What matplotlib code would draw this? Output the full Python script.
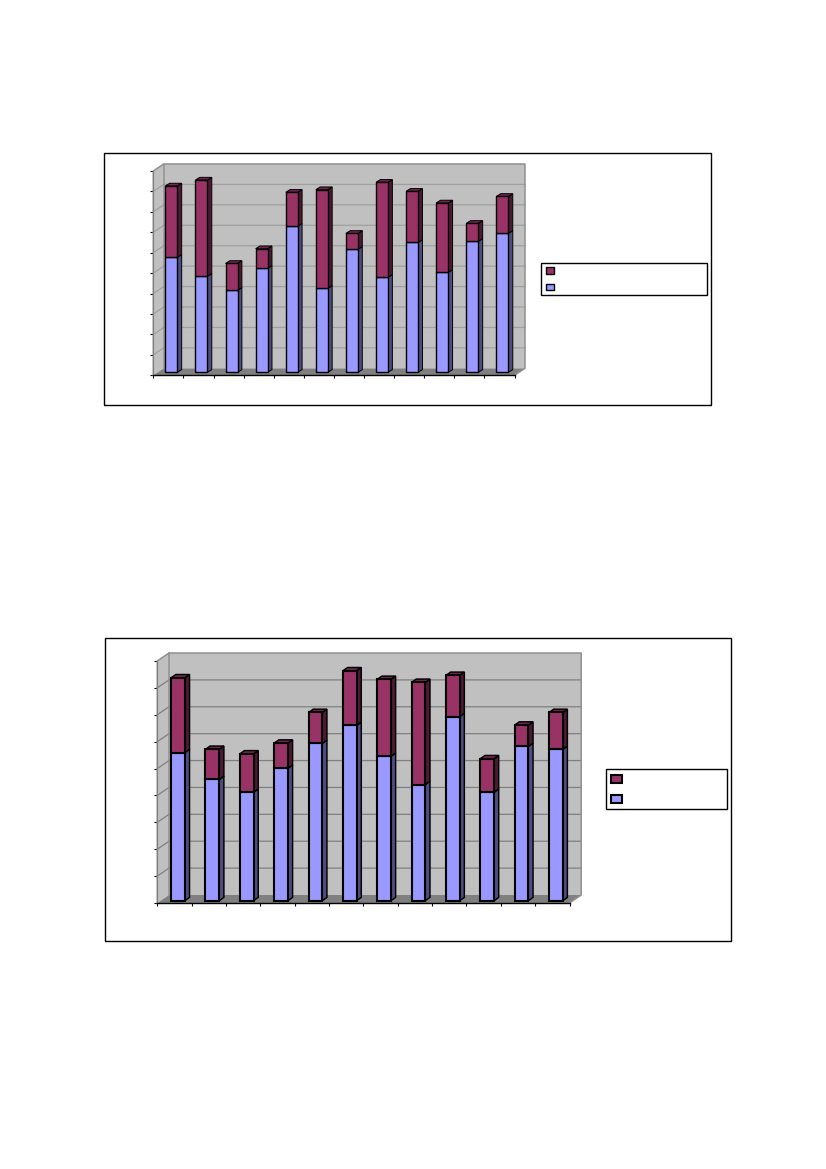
import matplotlib
matplotlib.use('Agg')
import matplotlib.pyplot as plt
from matplotlib.patches import Polygon, Rectangle
from matplotlib.transforms import Affine2D, IdentityTransform

W = 826
H = 1169

# top chart values
blue_1 = [56.3, 47.0, 40.1, 50.9, 71.5, 41.1, 60.2, 46.5, 63.6, 48.9, 64.1, 68.0]
red_1 = [34.9, 47.1, 13.2, 9.6, 16.6, 48.3, 7.8, 46.5, 25.0, 34.0, 8.8, 18.1]
ticks_1 = [0, 10, 20, 30, 40, 50, 60, 70, 80, 90, 100]

# bottom chart values
blue_2 = [55.1, 45.1, 40.3, 49.2, 58.5, 65.2, 53.7, 43.2, 68.5, 40.3, 57.4, 56.3]
red_2 = [27.8, 11.2, 14.3, 9.4, 11.5, 20.3, 28.6, 38.0, 15.3, 12.5, 7.9, 13.7]
ticks_2 = [0, 10, 20, 30, 40, 50, 60, 70, 80, 90]

BLUE = '#9999ff'
BLUE_SIDE = '#4d4d80'
RED = '#993366'
RED_SIDE = '#4d1a33'
RED_TOP = '#732650'
WALL = '#c0c0c0'
FLOOR = '#808080'


def rect_px(fig, x0, y0, x1, y1, fc, ec='black', lw=1.0, z=5):
    # rectangle given in image pixels, y going down
    fig.add_artist(Rectangle((x0, H - y1), x1 - x0, y1 - y0, facecolor=fc, edgecolor=ec,
                             linewidth=lw, transform=IdentityTransform(), zorder=z))


def draw_chart(fig, frame, box, back, front, side, blue, red, ticks, lw, grid, legend, swatches):
    rect_px(fig, frame[0], frame[1], frame[2], frame[3], 'white', lw=1.0, z=-1)

    x0, y0, x1, y1 = box
    ax = fig.add_axes([x0 / W, 1 - y0 / H, (x1 - x0) / W, (y0 - y1) / H])
    ax.patch.set_alpha(0)
    ax.set_xlim(0, len(blue))
    ax.set_ylim(ticks[0], ticks[-1])

    def to_px(x, y, dx=0, dy=0):
        p = ax.transData.transform((x, y))
        return (p[0] + dx, p[1] + dy)

    def poly(points, fc, ec='none', line=0.0, z=1):
        ax.add_patch(Polygon(points, closed=True, facecolor=fc, edgecolor=ec, linewidth=line,
                             transform=IdentityTransform(), clip_on=False, zorder=z))

    n = len(blue)
    bx, by = back
    top = ticks[-1]

    # walls and floor
    poly([to_px(0, 0), to_px(0, top), to_px(0, top, bx, by), to_px(0, 0, bx, by)], WALL, z=1)
    poly([to_px(0, 0, bx, by), to_px(0, top, bx, by), to_px(n, top, bx, by), to_px(n, 0, bx, by)], WALL, z=1)
    poly([to_px(0, 0), to_px(0, 0, bx, by), to_px(n, 0, bx, by), to_px(n, 0)], FLOOR, z=1.5)

    # gridlines on the walls
    for t in ticks[1:-1]:
        pts = [to_px(0, t), to_px(0, t, bx, by), to_px(n, t, bx, by)]
        ax.plot([p[0] for p in pts], [p[1] for p in pts], color=grid, lw=0.9,
                transform=IdentityTransform(), clip_on=False, zorder=1.2)
    pts = [to_px(0, 0), to_px(0, top), to_px(0, top, bx, by), to_px(n, top, bx, by), to_px(n, 0, bx, by), to_px(n, 0)]
    ax.plot([p[0] for p in pts], [p[1] for p in pts], color='#909090', lw=1.1,
            transform=IdentityTransform(), clip_on=False, zorder=1.6)
    pts = [to_px(0, top, bx, by), to_px(0, 0, bx, by)]
    ax.plot([p[0] for p in pts], [p[1] for p in pts], color='#909090', lw=1.1,
            transform=IdentityTransform(), clip_on=False, zorder=1.6)

    # bars, front face through the axes scale, shifted into the depth
    fx, fy = front
    sx, sy = side
    shift = Affine2D().translate(fx, fy)
    width = 0.4
    pos = [i + 0.5 for i in range(n)]
    for i in range(n):
        lo = pos[i] - width / 2
        hi = pos[i] + width / 2
        b = blue[i]
        t = blue[i] + red[i]
        poly([to_px(hi, 0, fx, fy), to_px(hi, b, fx, fy), to_px(hi, b, fx + sx, fy + sy), to_px(hi, 0, fx + sx, fy + sy)],
             BLUE_SIDE, 'black', lw * 0.7, 3)
        poly([to_px(hi, b, fx, fy), to_px(hi, t, fx, fy), to_px(hi, t, fx + sx, fy + sy), to_px(hi, b, fx + sx, fy + sy)],
             RED_SIDE, 'black', lw * 0.7, 3)
        poly([to_px(lo, t, fx, fy), to_px(lo, t, fx + sx, fy + sy), to_px(hi, t, fx + sx, fy + sy), to_px(hi, t, fx, fy)],
             RED_TOP, 'black', lw * 0.7, 3)
    ax.bar(pos, blue, width, color=BLUE, edgecolor='black', linewidth=lw,
           transform=ax.transData + shift, clip_on=False, zorder=4)
    ax.bar(pos, red, width, bottom=blue, color=RED, edgecolor='black', linewidth=lw,
           transform=ax.transData + shift, clip_on=False, zorder=4)

    # axes
    ax.set_xticks(range(n + 1))
    ax.set_yticks(ticks)
    ax.tick_params(length=2.5, width=0.8, labelleft=False, labelbottom=False)
    for s in ['top', 'right']:
        ax.spines[s].set_visible(False)
    ax.spines['left'].set_color('#808080')
    ax.spines['bottom'].set_linewidth(1.0)
    ax.spines['left'].set_zorder(2)
    ax.spines['bottom'].set_zorder(2)

    # legend box, entries have no visible text in the source
    rect_px(fig, legend[0], legend[1], legend[2], legend[3], 'white', lw=1.0)
    rect_px(fig, swatches[0][0], swatches[0][1], swatches[0][2], swatches[0][3], RED, lw=lw, z=6)
    rect_px(fig, swatches[1][0], swatches[1][1], swatches[1][2], swatches[1][3], BLUE, lw=lw, z=6)


fig = plt.figure(figsize=(W / 100, H / 100), dpi=100)

draw_chart(fig, (104, 153, 711, 405), (153.3, 375.3, 514.5, 171.0),
           (10.5, 7.0), (3.0, 3.0), (4.3, 2.7), blue_1, red_1, ticks_1, 1.0, '#a0a0a0',
           (541, 263, 707, 295),
           [(546, 267, 554, 274), (546, 284, 554, 290)])

draw_chart(fig, (105, 638, 731, 941), (157.3, 903.0, 569.5, 661.0),
           (11.7, 8.0), (3.5, 2.3), (4.7, 3.3), blue_2, red_2, ticks_2, 1.5, '#808080',
           (606, 769, 727, 809),
           [(611, 775, 622, 783), (611, 795, 622, 803)])

fig.savefig('out.png', dpi=100)
